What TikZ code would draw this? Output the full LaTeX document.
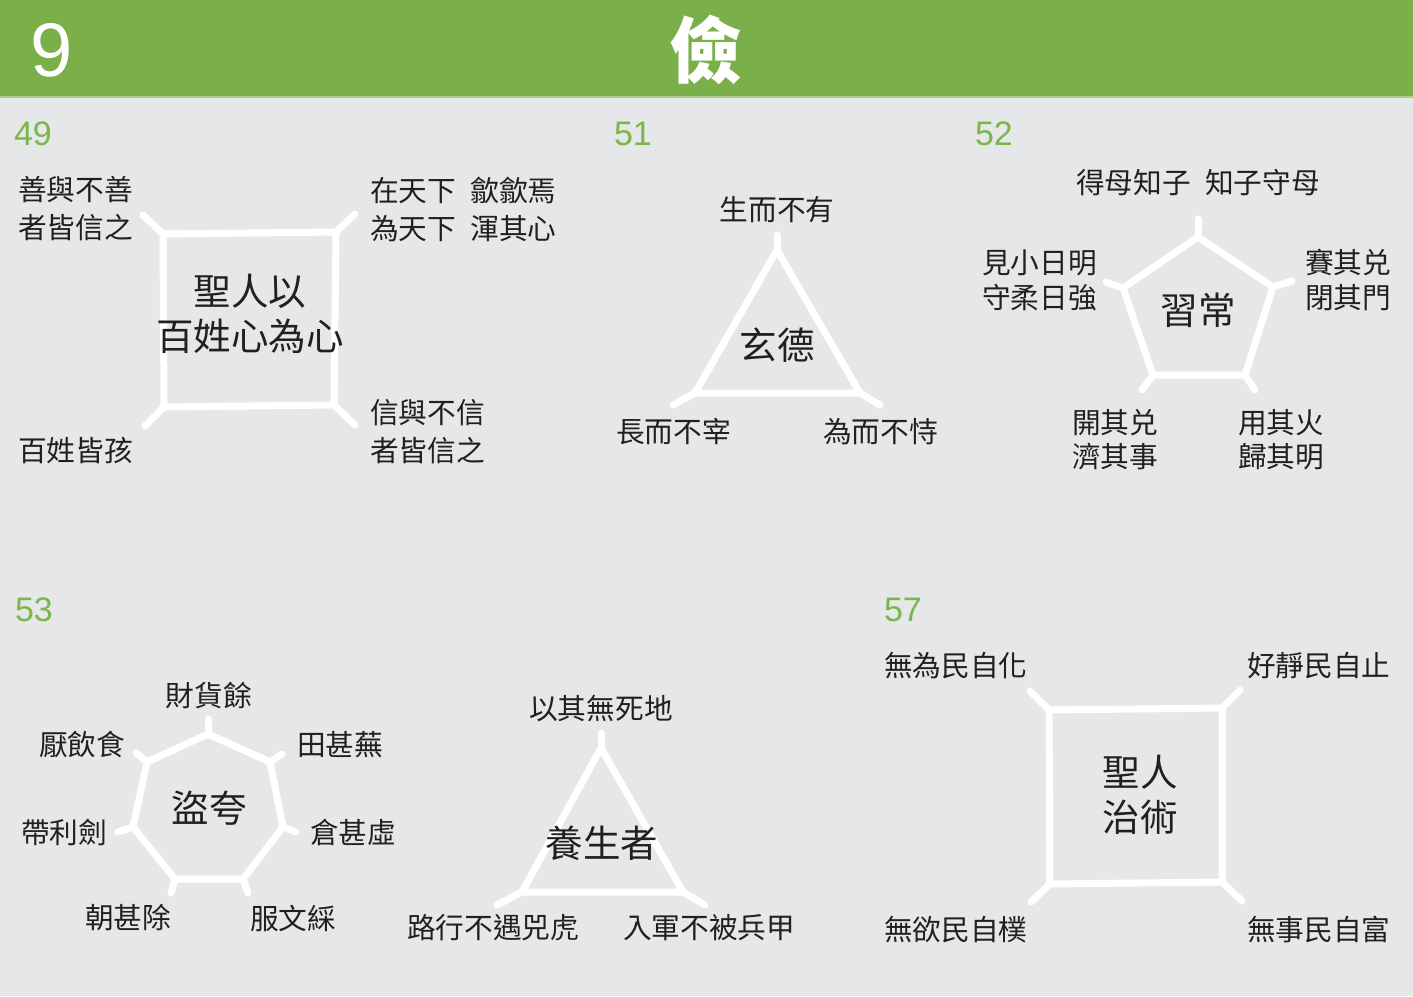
\documentclass[tikz,border=0pt]{standalone}
\usepackage{fontspec}
\setmainfont{Liberation Sans}
\newfontfamily\cjk{Noto Sans CJK TC}
\definecolor{bg}{RGB}{230,231,233}
\definecolor{headgreen}{RGB}{123,175,74}
\definecolor{headline}{RGB}{170,205,135}
\definecolor{numgreen}{RGB}{122,182,72}
\definecolor{ink}{RGB}{35,31,32}
\begin{document}
\begin{tikzpicture}[x=1pt,y=-1pt,
  every node/.style={inner sep=0pt,outer sep=0pt,text=ink},
  lbl/.style={font=\cjk\fontsize{28.7}{38}\selectfont,align=left},
  lblL/.style={lbl,anchor=west},
  lblC/.style={lbl,align=center},
  core/.style={font=\cjk\fontsize{37.5}{45}\selectfont,align=center},
  secnum/.style={font=\fontsize{34}{34}\selectfont,text=numgreen,anchor=west},
  outline/.style={draw=white,line width=7pt,line join=round},
  tick/.style={draw=white,line width=7pt,line cap=round}]
% canvas and header band
\fill[bg] (0,0) rectangle (1413,996);
\useasboundingbox (0,0) rectangle (1413,996);
\fill[headgreen] (0,0) rectangle (1413,96);
\fill[headline] (0,96) rectangle (1413,98);
\node[text=white,font=\fontsize{76}{76}\selectfont] (chapter) at (52,50) {9};
\node[text=white,font=\cjk\bfseries\fontsize{72}{72}\selectfont] (title) at (706,50) {儉};

% section numbers
\node[secnum] (n49) at (14,134) {49};
\node[secnum] (n51) at (614,134) {51};
\node[secnum] (n52) at (975,134) {52};
\node[secnum] (n53) at (15,610) {53};
\node[secnum] (n57) at (884,610) {57};

% ---- 49: square ----
\coordinate (a1) at (163,234); \coordinate (a2) at (336,232);
\coordinate (a3) at (334,405); \coordinate (a4) at (164,407);
\coordinate (a1t) at (143,215); \coordinate (a2t) at (355,214);
\coordinate (a3t) at (355,425); \coordinate (a4t) at (145,426);
\draw[outline] (a1) -- (a2) -- (a3) -- (a4) -- cycle;
\draw[tick] (a1) -- (a1t); \draw[tick] (a2) -- (a2t);
\draw[tick] (a3) -- (a3t); \draw[tick] (a4) -- (a4t);
\node[core] (c49) at (250,314) {聖人以\\百姓心為心};
\node[lblL] (l49a) at (18,209) {善與不善\\者皆信之};
\node[lblL] (l49b) at (370,209) {在天下\hspace{0.5em}歙歙焉\\為天下\hspace{0.5em}渾其心};
\node[lblL] (l49c) at (370,432) {信與不信\\者皆信之};
\node[lblL] (l49d) at (18,451) {百姓皆孩};

% ---- 51: triangle ----
\coordinate (b1) at (777,250); \coordinate (b2) at (860,393); \coordinate (b3) at (695,393);
\coordinate (b1t) at (777,235); \coordinate (b2t) at (880,405); \coordinate (b3t) at (673,405);
\draw[outline] (b1) -- (b2) -- (b3) -- cycle;
\draw[tick] (b1) -- (b1t); \draw[tick] (b2) -- (b2t); \draw[tick] (b3) -- (b3t);
\node[core] (c51) at (777,345) {玄德};
\node[lblC] (l51a) at (777,210) {生而不有};
\node[lblL] (l51b) at (616,432) {長而不宰};
\node[lblL] (l51c) at (823,432) {為而不恃};

% ---- 52: pentagon ----
\coordinate (p1) at (1198,237); \coordinate (p2) at (1273,287); \coordinate (p3) at (1245,375);
\coordinate (p4) at (1153,375); \coordinate (p5) at (1123,288);
\coordinate (p1t) at (1198,219); \coordinate (p2t) at (1292,281); \coordinate (p3t) at (1255,390);
\coordinate (p4t) at (1142,390); \coordinate (p5t) at (1106,282);
\draw[outline] (p1) -- (p2) -- (p3) -- (p4) -- (p5) -- cycle;
\draw[tick] (p1) -- (p1t); \draw[tick] (p2) -- (p2t); \draw[tick] (p3) -- (p3t);
\draw[tick] (p4) -- (p4t); \draw[tick] (p5) -- (p5t);
\node[core] (c52) at (1198,310) {習常};
\node[lblC] (l52a) at (1198,183) {得母知子\hspace{0.5em}知子守母};
\node[lblL,font=\cjk\fontsize{28.7}{35}\selectfont] (l52b) at (982,280) {見小日明\\守柔日強};
\node[lblL,font=\cjk\fontsize{28.7}{35}\selectfont] (l52c) at (1305,280) {賽其兑\\閉其門};
\node[lblL,font=\cjk\fontsize{28.7}{34}\selectfont] (l52d) at (1072,440) {開其兑\\濟其事};
\node[lblL,font=\cjk\fontsize{28.7}{34}\selectfont] (l52e) at (1238,440) {用其火\\歸其明};

% ---- 53: heptagon ----
\coordinate (h1) at (208,734); \coordinate (h2) at (270,762); \coordinate (h3) at (283,827);
\coordinate (h4) at (243,879); \coordinate (h5) at (175,879); \coordinate (h6) at (133,827);
\coordinate (h7) at (147,762);
\coordinate (h1t) at (208,719); \coordinate (h2t) at (282,754); \coordinate (h3t) at (296,832);
\coordinate (h4t) at (248,893); \coordinate (h5t) at (171,893); \coordinate (h6t) at (118,832);
\coordinate (h7t) at (136,753);
\draw[outline] (h1) -- (h2) -- (h3) -- (h4) -- (h5) -- (h6) -- (h7) -- cycle;
\foreach \k in {1,...,7} { \draw[tick] (h\k) -- (h\k t); }
\node[core] (c53) at (209,808) {盜夸};
\node[lblC] (l53a) at (209,695) {財貨餘};
\node[lblL] (l53b) at (297,745) {田甚蕪};
\node[lblL] (l53c) at (310,832) {倉甚虛};
\node[lblL] (l53d) at (250,918) {服文綵};
\node[lblL] (l53e) at (85,918) {朝甚除};
\node[lblL] (l53f) at (21,832) {帶利劍};
\node[lblL] (l53g) at (39,745) {厭飲食};

% ---- 50: triangle ----
\coordinate (t1) at (601,748); \coordinate (t2) at (683,892); \coordinate (t3) at (522,892);
\coordinate (t1t) at (601,733); \coordinate (t2t) at (705,905); \coordinate (t3t) at (497,905);
\draw[outline] (t1) -- (t2) -- (t3) -- cycle;
\draw[tick] (t1) -- (t1t); \draw[tick] (t2) -- (t2t); \draw[tick] (t3) -- (t3t);
\node[core] (c50) at (602,843) {養生者};
\node[lblC] (l50a) at (601,709) {以其無死地};
\node[lblL] (l50b) at (407,928) {路行不遇兕虎};
\node[lblL] (l50c) at (623,928) {入軍不被兵甲};

% ---- 57: square ----
\coordinate (s1) at (1049,710); \coordinate (s2) at (1222,708);
\coordinate (s3) at (1222,882); \coordinate (s4) at (1050,884);
\coordinate (s1t) at (1030,691); \coordinate (s2t) at (1240,690);
\coordinate (s3t) at (1242,901); \coordinate (s4t) at (1031,902);
\draw[outline] (s1) -- (s2) -- (s3) -- (s4) -- cycle;
\draw[tick] (s1) -- (s1t); \draw[tick] (s2) -- (s2t);
\draw[tick] (s3) -- (s3t); \draw[tick] (s4) -- (s4t);
\node[core] (c57) at (1140,795) {聖人\\治術};
\node[lblL] (l57a) at (884,666) {無為民自化};
\node[lblL] (l57b) at (1247,666) {好靜民自止};
\node[lblL] (l57c) at (884,930) {無欲民自樸};
\node[lblL] (l57d) at (1247,930) {無事民自富};
\end{tikzpicture}
\end{document}
